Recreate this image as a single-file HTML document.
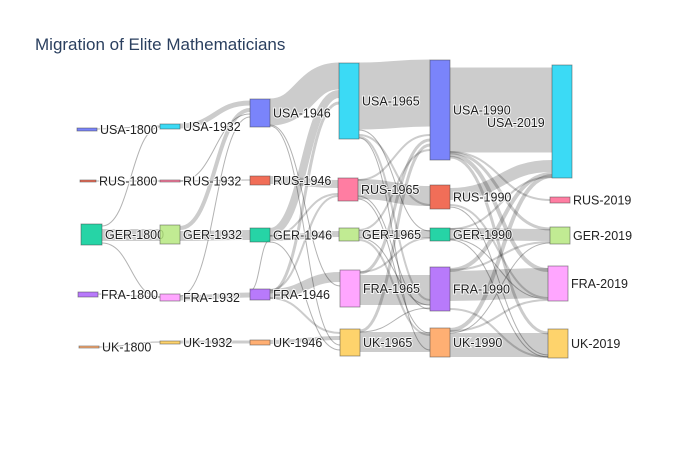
<!DOCTYPE html>
<html><head><meta charset="utf-8"><style>
body{margin:0;background:#fff;}
svg{display:block;font-family:"Liberation Sans",Arial,sans-serif;}
.lbl{font-size:12.5px;fill:#222;paint-order:stroke;stroke:#fff;stroke-width:2px;stroke-opacity:.8}
</style></head><body>
<svg id="s" width="700" height="450" viewBox="0 0 700 450">
<rect width="700" height="450" fill="#fff"/>
<text x="35" y="50" font-size="17" fill="#2a3f5f">Migration of Elite Mathematicians</text>
<g id="links" fill="none" stroke="rgba(0,0,0,0.2)"></g>
<g id="nodes"></g>
</svg>
<script>
var N={
U0:[77,97,128,131,"#636efa","USA-1800"],R0:[80,96,180,182,"#ef553b","RUS-1800"],G0:[81,102,224,245,"#00cc96","GER-1800"],F0:[78,98,292,297,"#ab63fa","FRA-1800"],K0:[79,99,346,348,"#ffa15a","UK-1800"],
U1:[160,180,124,129,"#19d3f3","USA-1932"],R1:[160,180,180,182,"#ff6692","RUS-1932"],G1:[160,180,225,244,"#b6e880","GER-1932"],F1:[160,180,294,301,"#ff97ff","FRA-1932"],K1:[160,180,341,344,"#fecb52","UK-1932"],
U2:[250,270,99,127,"#636efa","USA-1946"],R2:[250,270,176,185,"#ef553b","RUS-1946"],G2:[250,270,228,242,"#00cc96","GER-1946"],F2:[250,270,289,300,"#ab63fa","FRA-1946"],K2:[250,270,340,345,"#ffa15a","UK-1946"],
U3:[339,359,63,139,"#19d3f3","USA-1965"],R3:[338,358,178,201,"#ff6692","RUS-1965"],G3:[339,359,228,241,"#b6e880","GER-1965"],F3:[340,360,270,307,"#ff97ff","FRA-1965"],K3:[340,360,329,356,"#fecb52","UK-1965"],
U4:[430,450,60,160,"#636efa","USA-1990"],R4:[430,450,185,209,"#ef553b","RUS-1990"],G4:[430,450,228,241,"#00cc96","GER-1990"],F4:[430,450,267,311,"#ab63fa","FRA-1990"],K4:[430,450,328,357,"#ffa15a","UK-1990"],
U5:[552,572,65,178,"#19d3f3","USA-2019"],R5:[550,570,197,203,"#ff6692","RUS-2019"],G5:[550,570,227,244,"#b6e880","GER-2019"],F5:[548,568,266,301,"#ff97ff","FRA-2019"],K5:[548,568,329,358,"#fecb52","UK-2019"]
};
var L=[
["G0","G1",235,235,12],["G0","F1",243,297,1],["G0","U1",226,127,1],["U0","U1",129,126,1],["F0","F1",294,297,1],["K0","K1",347,342,1],["R0","R1",181,181,1],
["U1","U2",126,103,5],["G1","U2",228,110,4],["R1","U2",181,114,1],["F1","U2",296,117,1],["F1","F2",298,295,5],["K1","K2",342,342,3],["G1","G2",236,235,10],["R1","R2",181,180,1],
["U2","U3",112,76,27],["G2","U3",232,94,8],["F2","F3",294,277,10],["G2","F2",240,291,1],["R2","R3",180,184,8],["G2","R3",236,194,2],["K2","K3",342,338,4],["F2","K3",298,333,2],["G2","G3",238,234,6],["U2","K3",126,345,1],["U2","F3",125,286,1],["F2","U3",292,103,3],["F2","R3",290,196,2],["G2","K3",242,350,1],
["U3","U4",96,93,67],["R3","R4",189,196,20],["F3","F4",290,290,30],["K3","K4",342,342,20],["G3","G4",234,234,8],["U3","R4",135,205,2],["U3","F4",137,300,2],["U3","K4",138,350,1],["R3","U4",180,135,2],["F3","U4",273,140,3],["K3","U4",331,145,3],["G3","U4",230,150,2],["F3","G4",272,238,2],["G3","K4",240,335,2],["R3","K4",199,333,1],["G3","F4",238,305,1],["K3","F4",332,308,1],["R3","F4",196,309,1],["U3","G4",130,231,1],
["U4","U5",110,110,85],["R4","U5",194,166,12],["G4","G5",234,235,12],["F4","F5",286,283,30],["K4","K5",345,345,24],["F4","U5",270,174,4],["K4","U5",330,176,4],["G4","U5",229,177,2],["U4","F5",155,270,4],["U4","K5",157,333,3],["U4","G5",153,229,3],["U4","R5",152,200,2],["R4","F5",205,298,2],["R4","K5",207,355,1],["G4","K5",240,357,1],["F4","G5",270,242,2],["K4","F5",331,300,2],["F4","K5",309,357,2],["K4","G5",333,243,1],["G4","F5",239,299,1]
];
var ns="http://www.w3.org/2000/svg",lg=document.getElementById("links"),ng=document.getElementById("nodes");
L.forEach(function(l){var a=N[l[0]],b=N[l[1]];var x0=a[1],x1=b[0],m=(x0+x1)/2;
var p=document.createElementNS(ns,"path");p.setAttribute("d","M"+x0+","+l[2]+"C"+m+","+l[2]+" "+m+","+l[3]+" "+x1+","+l[3]);
p.setAttribute("stroke-width",l[4]);if(l[4]<=1){p.setAttribute("stroke","rgba(0,0,0,0.3)");}lg.appendChild(p);});
var lx={U5:[487,127]};
for(var k in N){var n=N[k];var r=document.createElementNS(ns,"rect");r.setAttribute("x",n[0]);r.setAttribute("y",n[2]);r.setAttribute("width",n[1]-n[0]);r.setAttribute("height",Math.max(n[3]-n[2],2));
r.setAttribute("fill",n[4]);r.setAttribute("fill-opacity","0.85");r.setAttribute("stroke","rgba(68,68,68,0.6)");r.setAttribute("stroke-width","0.8");ng.appendChild(r);
var t=document.createElementNS(ns,"text");t.setAttribute("class","lbl");var cy=(n[2]+n[3])/2+4.5;var tx=n[1]+3;
if(lx[k]){tx=lx[k][0];cy=lx[k][1];}t.setAttribute("x",tx);t.setAttribute("y",cy);t.textContent=n[5];ng.appendChild(t);}
</script>
</body></html>
